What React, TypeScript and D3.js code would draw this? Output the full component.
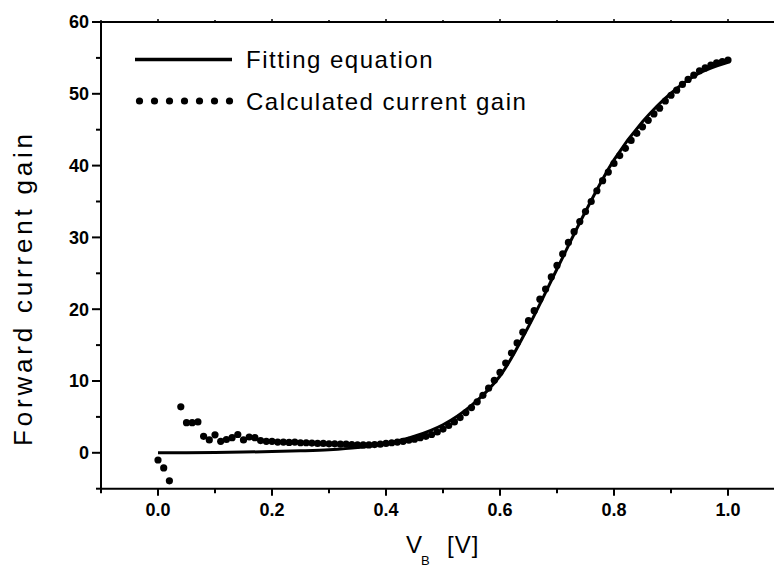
import React from "react";
import * as d3 from "d3";

// ---- data ----
const calcX = [
  0.0, 0.01, 0.02, 0.04, 0.05, 0.06, 0.07, 0.08, 0.09, 0.1,
  0.11, 0.12, 0.13, 0.14, 0.15, 0.16, 0.17, 0.18, 0.19, 0.2,
  0.21, 0.22, 0.23, 0.24, 0.25, 0.26, 0.27, 0.28, 0.29, 0.3,
  0.31, 0.32, 0.33, 0.34, 0.35, 0.36, 0.37, 0.38, 0.39, 0.4,
  0.41, 0.42, 0.43, 0.44, 0.45, 0.46, 0.47, 0.48, 0.49, 0.5,
  0.51, 0.52, 0.53, 0.54, 0.55, 0.56, 0.57, 0.58, 0.59, 0.6,
  0.61, 0.62, 0.63, 0.64, 0.65, 0.66, 0.67, 0.68, 0.69, 0.7,
  0.71, 0.72, 0.73, 0.74, 0.75, 0.76, 0.77, 0.78, 0.79, 0.8,
  0.81, 0.82, 0.83, 0.84, 0.85, 0.86, 0.87, 0.88, 0.89, 0.9,
  0.91, 0.92, 0.93, 0.94, 0.95, 0.96, 0.97, 0.98, 0.99, 1.0,
];
const calcGain = [
  -1.0, -2.1, -3.9, 6.4, 4.2, 4.2, 4.3, 2.3, 1.8, 2.5,
  1.6, 1.85, 2.1, 2.55, 1.8, 2.2, 2.1, 1.7, 1.6, 1.6,
  1.5, 1.5, 1.45, 1.5, 1.4, 1.4, 1.35, 1.3, 1.3, 1.25,
  1.25, 1.2, 1.2, 1.15, 1.1, 1.1, 1.1, 1.15, 1.2, 1.3,
  1.4, 1.5, 1.6, 1.75, 1.9, 2.1, 2.3, 2.55, 2.9, 3.3,
  3.8, 4.3, 4.9, 5.6, 6.3, 7.1, 8.0, 9.0, 10.1, 11.2,
  12.5, 13.9, 15.3, 16.8, 18.4, 19.8, 21.4, 22.8, 24.5, 26.1,
  27.7, 29.3, 30.8, 32.2, 33.6, 35.0, 36.5, 37.9, 39.1, 40.3,
  41.4, 42.4, 43.5, 44.5, 45.4, 46.3, 47.2, 48.0, 49.0, 49.8,
  50.5, 51.3, 52.0, 52.6, 53.2, 53.6, 54.0, 54.3, 54.5, 54.7,
];
const fitX = [0, 0.05, 0.1, 0.15, 0.2, 0.25, 0.3, 0.35, 0.4, 0.45, 0.5, 0.55, 0.6, 0.65, 0.7, 0.75, 0.8, 0.85, 0.9, 0.95, 1.0];
const fitGain = [0, 0.02, 0.05, 0.1, 0.17, 0.27, 0.42, 0.72, 1.3, 2.3, 3.9, 6.6, 10.7, 17.6, 25.6, 33.6, 40.8, 46.1, 50.1, 52.9, 54.4];

const xMajorTicks = [0, 0.2, 0.4, 0.6, 0.8, 1.0];
const xMinorTicks = [-0.1, 0.1, 0.3, 0.5, 0.7, 0.9, 1.1];
const yMajorTicks = [0, 10, 20, 30, 40, 50, 60];
const yMinorTicks = [-5, 5, 15, 25, 35, 45, 55];

const legendLabels = ["Fitting equation", "Calculated current gain"];
const yTitle = "Forward current gain";

const W = 774;
const H = 569;

export default function App() {
  const x = d3.scaleLinear().domain([-0.1, 1.1]).range([101, 785]);
  const y = d3.scaleLinear().domain([-5, 60]).range([488.7, 22]);

  const line = d3
    .line<number>()
    .x((_, i) => x(fitX[i]))
    .y((d) => y(d))
    .curve(d3.curveCatmullRom.alpha(0.5));

  const x0 = x(-0.1);
  const yBottom = y(-5);
  const yTop = y(60);
  const font = "'Liberation Sans', Arial, Helvetica, sans-serif";

  const legendDots = d3.range(7).map((i) => 139.5 + i * 15);

  return (
    <svg
      width={W}
      height={H}
      style={{ position: "absolute", left: 0, top: 0, background: "#fff" }}
      fontFamily={font}
    >
      <rect x={0} y={0} width={W} height={H} fill="#fff" />
      {/* axes lines */}
      <line x1={x0} x2={W + 10} y1={yBottom} y2={yBottom} stroke="#000" strokeWidth={2} />
      <line x1={x0} x2={x0} y1={yTop} y2={yBottom} stroke="#000" strokeWidth={2} />
      <line x1={92} x2={W + 10} y1={yTop} y2={yTop} stroke="#000" strokeWidth={2} />

      {/* x ticks */}
      {xMajorTicks.map((t) => (
        <g key={"xM" + t}>
          <line x1={x(t)} x2={x(t)} y1={yBottom} y2={yBottom + 7} stroke="#000" strokeWidth={2} />
          <line x1={x(t)} x2={x(t)} y1={yTop} y2={yTop - 3} stroke="#000" strokeWidth={1.5} />
          <text
            x={x(t)}
            y={516}
            textAnchor="middle"
            fontWeight="bold"
            fontSize={18}
          >
            {t.toFixed(1)}
          </text>
        </g>
      ))}
      {xMinorTicks.map((t) => (
        <g key={"xm" + t}>
          <line x1={x(t)} x2={x(t)} y1={yBottom} y2={yBottom + 4.5} stroke="#000" strokeWidth={2} />
          <line x1={x(t)} x2={x(t)} y1={yTop} y2={yTop - 2} stroke="#000" strokeWidth={1.5} />
        </g>
      ))}

      {/* y ticks */}
      {yMajorTicks.map((t) => (
        <g key={"yM" + t}>
          <line x1={x0} x2={x0 - 9} y1={y(t)} y2={y(t)} stroke="#000" strokeWidth={2} />
          <text
            x={89}
            y={y(t)}
            dy="0.36em"
            textAnchor="end"
            fontWeight="bold"
            fontSize={18}
          >
            {t}
          </text>
        </g>
      ))}
      {yMinorTicks.map((t) => (
        <line key={"ym" + t} x1={x0} x2={x0 - 5} y1={y(t)} y2={y(t)} stroke="#000" strokeWidth={2} />
      ))}

      {/* fit line */}
      <path d={line(fitGain) || ""} fill="none" stroke="#000" strokeWidth={3} />

      {/* calculated points */}
      {calcGain.map((v, i) => (
        <circle key={"c" + i} cx={x(calcX[i])} cy={y(v)} r={3.6} fill="#000" />
      ))}

      {/* legend */}
      <line x1={135} x2={232} y1={59.5} y2={59.5} stroke="#000" strokeWidth={3.5} />
      <text x={246} y={59.5} dy="0.36em" fontSize={24} letterSpacing={1.5}>
        {legendLabels[0]}
      </text>
      {legendDots.map((cx, i) => (
        <circle key={"ld" + i} cx={cx} cy={101} r={3.6} fill="#000" />
      ))}
      <text x={246} y={101} dy="0.36em" fontSize={24} letterSpacing={1.5}>
        {legendLabels[1]}
      </text>

      {/* y title */}
      <text
        transform={`translate(32, 290) rotate(-90)`}
        textAnchor="middle"
        fontSize={26}
        textLength={312}
        lengthAdjust="spacing"
      >
        {yTitle}
      </text>

      {/* x title */}
      <text x={406} y={553} fontSize={24}>
        V
      </text>
      <text x={421} y={565} fontSize={13}>
        B
      </text>
      <text x={447} y={553} fontSize={24} letterSpacing={1}>
        [V]
      </text>
    </svg>
  );
}
